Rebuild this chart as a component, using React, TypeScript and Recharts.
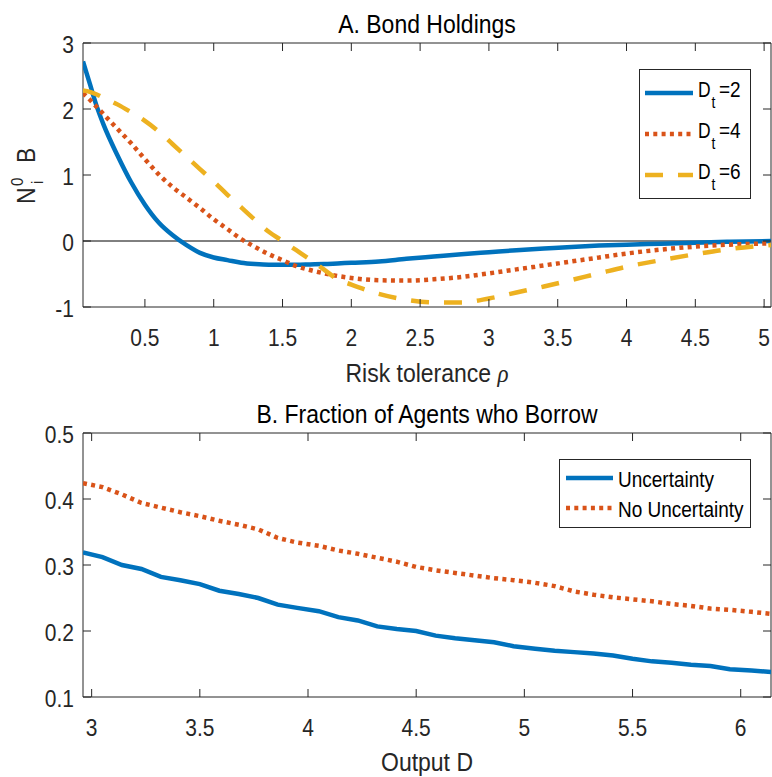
import React from 'react';
import { LineChart, Line, XAxis, YAxis, ReferenceLine, ReferenceArea, Legend } from 'recharts';

// ---------- Panel A: Bond holdings ----------
const rhoGrid = [0.05, 0.1, 0.15, 0.2, 0.3, 0.4, 0.5, 0.6, 0.7, 0.8, 0.9, 1.0, 1.1, 1.2, 1.3, 1.4, 1.5, 1.6, 1.7, 1.8, 1.9, 2.0, 2.2, 2.4, 2.6, 2.8, 3.0, 3.2, 3.4, 3.6, 3.8, 4.0, 4.25, 4.5, 4.75, 5.05];
const holdingsD2 = [2.72, 2.38, 2.04, 1.76, 1.30, 0.89, 0.55, 0.28, 0.09, -0.06, -0.18, -0.25, -0.29, -0.33, -0.35, -0.36, -0.36, -0.36, -0.355, -0.35, -0.34, -0.33, -0.31, -0.27, -0.235, -0.2, -0.17, -0.14, -0.115, -0.09, -0.07, -0.055, -0.04, -0.025, -0.012, 0];
const holdingsD4 = [2.24, 2.14, 2.03, 1.92, 1.70, 1.48, 1.24, 1.01, 0.82, 0.66, 0.50, 0.33, 0.18, 0.03, -0.09, -0.2, -0.29, -0.38, -0.44, -0.49, -0.53, -0.56, -0.595, -0.6, -0.58, -0.545, -0.49, -0.43, -0.37, -0.31, -0.25, -0.19, -0.13, -0.085, -0.055, -0.035];
const holdingsD6 = [2.28, 2.26, 2.22, 2.17, 2.07, 1.95, 1.82, 1.66, 1.47, 1.28, 1.09, 0.90, 0.70, 0.51, 0.32, 0.14, 0.0, -0.14, -0.28, -0.43, -0.58, -0.66, -0.8, -0.89, -0.93, -0.93, -0.87, -0.78, -0.69, -0.59, -0.49, -0.39, -0.29, -0.2, -0.12, -0.06];
const rhoTicks = [0.5, 1, 1.5, 2, 2.5, 3, 3.5, 4, 4.5, 5];
const holdingsTicks = [-1, 0, 1, 2, 3];
const dValues = ['2', '4', '6'];

// ---------- Panel B: Fraction of agents who borrow ----------
const outputGrid = [2.96, 3.05, 3.14, 3.23, 3.32, 3.41, 3.5, 3.59, 3.68, 3.77, 3.86, 3.95, 4.05, 4.14, 4.23, 4.32, 4.41, 4.5, 4.59, 4.68, 4.77, 4.86, 4.95, 5.05, 5.14, 5.23, 5.32, 5.41, 5.5, 5.59, 5.68, 5.77, 5.86, 5.95, 6.05, 6.14];
const borrowUncertainty = [0.319, 0.312, 0.3, 0.294, 0.282, 0.277, 0.271, 0.261, 0.256, 0.25, 0.24, 0.235, 0.23, 0.221, 0.216, 0.207, 0.203, 0.2, 0.193, 0.189, 0.186, 0.183, 0.177, 0.173, 0.17, 0.168, 0.166, 0.163, 0.158, 0.154, 0.152, 0.149, 0.147, 0.142, 0.14, 0.138];
const borrowNoUncertainty = [0.424, 0.418, 0.407, 0.394, 0.387, 0.38, 0.374, 0.367, 0.361, 0.354, 0.341, 0.334, 0.329, 0.322, 0.317, 0.311, 0.305, 0.297, 0.292, 0.288, 0.284, 0.28, 0.277, 0.273, 0.268, 0.26, 0.255, 0.251, 0.248, 0.245, 0.241, 0.238, 0.234, 0.232, 0.229, 0.226];
const outputTicks = [3, 3.5, 4, 4.5, 5, 5.5, 6];
const fractionTicks = [0.1, 0.2, 0.3, 0.4, 0.5];
const borrowNames = ['Uncertainty', 'No Uncertainty'];

const titles = ['A. Bond Holdings', 'B. Fraction of Agents who Borrow'];

const BLUE = '#0072BD';
const ORANGE = '#D95319';
const YELLOW = '#EDB120';
const INK = '#262626';
const FONT = '"Liberation Sans", Arial, Helvetica, sans-serif';
const SY = 1.12;
const PLOT_W = 688;
const PLOT_H = 264;
const TICK = 8;

const dataA = rhoGrid.map((x, i) => ({ x, d2: holdingsD2[i], d4: holdingsD4[i], d6: holdingsD6[i] }));
const dataB = outputGrid.map((x, i) => ({ x, unc: borrowUncertainty[i], nounc: borrowNoUncertainty[i] }));

const XTick = (props: any) => {
  const { x, y, payload } = props;
  return (
    <g>
      <line x1={x} x2={x} y1={y} y2={y - TICK} stroke={INK} strokeWidth={1} />
      <line x1={x} x2={x} y1={y - PLOT_H} y2={y - PLOT_H + TICK} stroke={INK} strokeWidth={1} />
      <text transform={`translate(${x},${y + 39}) scale(1,${SY})`} textAnchor="middle" fontSize={21} fontFamily={FONT} fill={INK}>
        {String(payload.value)}
      </text>
    </g>
  );
};

const YTick = (props: any) => {
  const { x, y, payload } = props;
  return (
    <g>
      <line x1={x} x2={x + TICK} y1={y} y2={y} stroke={INK} strokeWidth={1} />
      <line x1={x + PLOT_W} x2={x + PLOT_W - TICK} y1={y} y2={y} stroke={INK} strokeWidth={1} />
      <text transform={`translate(${x - 9},${y + 10}) scale(1,${SY})`} textAnchor="end" fontSize={21} fontFamily={FONT} fill={INK}>
        {String(payload.value)}
      </text>
    </g>
  );
};

const makeTitle = (title: string) => (props: any) => {
  const vb = props.viewBox;
  return (
    <text transform={`translate(${vb.x + vb.width / 2},${vb.y - 10}) scale(1,${SY})`} textAnchor="middle" fontSize={23} fontFamily={FONT} fill="#000">
      {title}
    </text>
  );
};

const XLabelA = (props: any) => {
  const vb = props.viewBox;
  return (
    <text transform={`translate(${vb.x + vb.width / 2},${vb.y + 75}) scale(1,${SY})`} textAnchor="middle" fontSize={23} fontFamily={FONT} fill={INK}>
      Risk tolerance <tspan fontFamily='"Liberation Serif", "DejaVu Serif", serif' fontStyle="italic">ρ</tspan>
    </text>
  );
};

const XLabelB = (props: any) => {
  const vb = props.viewBox;
  return (
    <text transform={`translate(${vb.x + vb.width / 2},${vb.y + 74}) scale(1,${SY})`} textAnchor="middle" fontSize={23} fontFamily={FONT} fill={INK}>
      Output D
    </text>
  );
};

const YLabelA = (props: any) => {
  const vb = props.viewBox;
  const cy = vb.y + vb.height / 2;
  return (
    <g transform={`translate(35,${cy}) rotate(-90) scale(1,${SY})`} fontFamily={FONT} fill={INK}>
      <text x={-29} y={0} fontSize={23}>N</text>
      <text x={-11} y={-11} fontSize={15}>0</text>
      <text x={-9} y={7} fontSize={15}>i</text>
      <text x={12} y={0} fontSize={23}>B</text>
    </g>
  );
};

const LegendA = () => {
  const colors = [BLUE, ORANGE, YELLOW];
  const dashes = [undefined, '4 4.3', '18 15'];
  return (
    <svg width={113} height={131} style={{ display: 'block' }}>
      <rect x={0.5} y={0.5} width={111} height={129} fill="#fff" stroke={INK} strokeWidth={1} />
      {dValues.map((d, i) => {
        const ly = 24 + i * 41;
        return (
          <g key={d}>
            <line x1={6} x2={54} y1={ly} y2={ly} stroke={colors[i]} strokeWidth={4.5} strokeDasharray={dashes[i]} />
            <g fontFamily={FONT} fill="#000">
              <text transform={`translate(59,${ly + 4}) scale(0.92,${SY})`} fontSize={19}>D</text>
              <text transform={`translate(72.5,${ly + 15}) scale(1,${SY})`} fontSize={14}>t</text>
              <text transform={`translate(80,${ly + 4}) scale(1,${SY})`} fontSize={19}>={d}</text>
            </g>
          </g>
        );
      })}
    </svg>
  );
};

const LegendB = () => {
  const colors = [BLUE, ORANGE];
  const dashes = [undefined, '4 4.3'];
  return (
    <svg width={193} height={70} style={{ display: 'block' }}>
      <rect x={0.5} y={0.5} width={191} height={68} fill="#fff" stroke={INK} strokeWidth={1} />
      {borrowNames.map((n, i) => {
        const ly = 19 + i * 30;
        return (
          <g key={n}>
            <line x1={7} x2={54} y1={ly} y2={ly} stroke={colors[i]} strokeWidth={4.5} strokeDasharray={dashes[i]} />
            <text transform={`translate(59,${ly + 9}) scale(1,${SY})`} fontSize={19} fontFamily={FONT} fill="#000">{n}</text>
          </g>
        );
      })}
    </svg>
  );
};

export default function App() {
  return (
    <div style={{ position: 'absolute', left: 0, top: 0, width: 772, height: 777, background: '#fff' }}>
      <LineChart width={772} height={390} data={dataA} margin={{ top: 43, right: 1, bottom: 0, left: 0 }}>
        <XAxis dataKey="x" type="number" domain={[0.05, 5.05]} ticks={rhoTicks} height={83} tickSize={0} tickMargin={0} tickLine={false} axisLine={false} tick={<XTick />} label={{ content: <XLabelA /> }} allowDataOverflow />
        <YAxis type="number" domain={[-1, 3]} ticks={holdingsTicks} width={83} tickSize={0} tickMargin={0} tickLine={false} axisLine={false} tick={<YTick />} label={{ content: <YLabelA /> }} allowDataOverflow />
        <ReferenceArea x1={0.05} x2={5.05} y1={-1} y2={3} fill="none" fillOpacity={0} stroke={INK} strokeWidth={1} ifOverflow="visible" label={{ content: makeTitle(titles[0]) }} />
        <ReferenceLine y={0} stroke="#000" strokeWidth={1} />
        <Line type="monotone" dataKey="d2" stroke={BLUE} strokeWidth={4.5} dot={false} isAnimationActive={false} />
        <Line type="monotone" dataKey="d4" stroke={ORANGE} strokeWidth={4.5} strokeDasharray="4 4.3" dot={false} isAnimationActive={false} />
        <Line type="monotone" dataKey="d6" stroke={YELLOW} strokeWidth={4.5} strokeDasharray="18 15" dot={false} isAnimationActive={false} />
        <Legend layout="horizontal" verticalAlign="middle" align="center" wrapperStyle={{ left: 639, top: 69, width: 113, height: 131 }} content={<LegendA />} />
      </LineChart>
      <LineChart width={772} height={387} data={dataB} margin={{ top: 43, right: 1, bottom: 0, left: 0 }}>
        <XAxis dataKey="x" type="number" domain={[2.96, 6.14]} ticks={outputTicks} height={80} tickSize={0} tickMargin={0} tickLine={false} axisLine={false} tick={<XTick />} label={{ content: <XLabelB /> }} allowDataOverflow />
        <YAxis type="number" domain={[0.1, 0.5]} ticks={fractionTicks} width={83} tickSize={0} tickMargin={0} tickLine={false} axisLine={false} tick={<YTick />} allowDataOverflow />
        <ReferenceArea x1={2.96} x2={6.14} y1={0.1} y2={0.5} fill="none" fillOpacity={0} stroke={INK} strokeWidth={1} ifOverflow="visible" label={{ content: makeTitle(titles[1]) }} />
        <Line type="linear" dataKey="unc" stroke={BLUE} strokeWidth={4.5} dot={false} isAnimationActive={false} />
        <Line type="linear" dataKey="nounc" stroke={ORANGE} strokeWidth={4.5} strokeDasharray="4 4.3" dot={false} isAnimationActive={false} />
        <Legend layout="horizontal" verticalAlign="middle" align="center" wrapperStyle={{ left: 559, top: 69, width: 193, height: 70 }} content={<LegendB />} />
      </LineChart>
    </div>
  );
}
